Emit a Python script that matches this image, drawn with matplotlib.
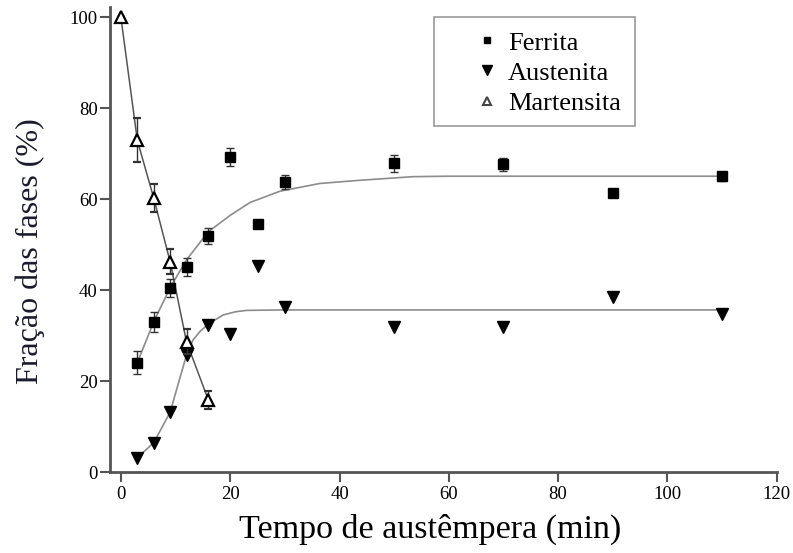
import matplotlib
matplotlib.use("Agg")
import matplotlib.pyplot as plt
from matplotlib.lines import Line2D
from matplotlib.patches import Rectangle

plt.rcParams["font.family"] = ["Liberation Serif", "DejaVu Serif"]

# ── measured phase fractions (%) vs austempering time (min) ─────────────────
t_fer = [3, 6, 9, 12, 16, 20, 25, 30, 50, 70, 90, 110]
ferrita = [24.1, 33.1, 40.6, 45.2, 52.0, 69.3, 54.5, 63.8, 67.9, 67.7, 61.3, 65.1]
ferrita_err = [2.5, 2.2, 2.0, 2.0, 1.8, 2.0, 0.5, 1.5, 1.8, 1.5, 0.5, 1.0]

t_aus = [3, 6, 9, 12, 16, 20, 25, 30, 50, 70, 90, 110]
austenita = [3.2, 6.5, 13.2, 25.8, 32.4, 30.5, 45.3, 36.3, 32.0, 32.0, 38.5, 34.8]

t_mar = [0, 3, 6, 9, 12, 16]
martensita = [100.0, 73.0, 60.3, 46.3, 28.7, 15.9]
martensita_err = [0.0, 4.8, 3.0, 2.8, 2.7, 2.0]

# guide lines: straight joins at short times, then the fitted trend
fer_line_t = [3, 6, 9, 12, 16, 20, 23.6, 29.1, 36.4, 43.7, 53.5, 60, 110]
fer_line_y = [24.1, 33.1, 40.6, 46.7, 52.9, 56.5, 59.3, 61.8, 63.5, 64.2, 65.0, 65.1, 65.1]
aus_line_t = [3, 6, 9, 12, 13.2, 14.5, 16, 18.7, 21, 23, 30, 110]
aus_line_y = [3.2, 6.5, 13.2, 25.8, 29.1, 31.0, 32.6, 34.6, 35.3, 35.6, 35.7, 35.7]

W, H = 793, 553
fig = plt.figure(figsize=(W / 100, H / 100), dpi=100)
ax = fig.add_axes([110 / W, 1 - 472.3 / H, (776.7 - 110) / W, (472.3 - 7) / H])

line_c = "#8c8c8c"
ax.plot(fer_line_t, fer_line_y, color=line_c, lw=1.2, zorder=1)
ax.plot(aus_line_t, aus_line_y, color=line_c, lw=1.2, zorder=1)
ax.plot(t_mar, martensita, color="#555555", lw=1.1, zorder=1)

ax.errorbar(t_fer, ferrita, yerr=ferrita_err, fmt="s", color="black",
            ms=7.5, ecolor="#333333", elinewidth=1, capsize=3, zorder=3)
ax.plot(t_aus, austenita, "v", color="black", ms=9, zorder=3)
ax.errorbar(t_mar, martensita, yerr=martensita_err, fmt="^", mfc="white",
            mec="black", mew=1.6, ms=8.5, ecolor="#333333", elinewidth=1,
            capsize=3, zorder=4)

ax.set_xlim(-2, 120)
ax.set_ylim(0, 102.3)
ax.set_xticks(range(0, 121, 20))
ax.set_yticks(range(0, 101, 20))
ax.tick_params(direction="out", length=7, width=1.5, color="#555555",
               labelsize=13.5)
ax.tick_params(axis="y", pad=2)
ax.tick_params(axis="x", pad=3)
for side in ("top", "right"):
    ax.spines[side].set_visible(False)
for side in ("left", "bottom"):
    ax.spines[side].set_linewidth(2)
    ax.spines[side].set_color("#555555")

ax.set_xlabel("Tempo de austêmpera (min)", fontsize=24.5)
ax.set_ylabel("Fração das fases (%)", fontsize=23, color="#1a1a2e")
ax.xaxis.set_label_coords(0.48, -0.09)
ax.yaxis.set_label_coords(-0.0975, 0.476)

# legend: keys and labels, with a plain square frame around them
handles = [
    Line2D([], [], ls="none", marker="s", color="black", ms=5),
    Line2D([], [], ls="none", marker="v", color="black", ms=7),
    Line2D([], [], ls="none", marker="^", mfc="white", mec="#444444", mew=1.5, ms=6),
]
fs = 19
fs_px = fs * 100 / 72
hl = 1.0
fig.legend(handles, ["Ferrita", "Austenita", "Martensita"],
           loc="center left", bbox_to_anchor=((487 - hl * fs_px / 2) / W, 1 - 73 / H),
           fontsize=fs, frameon=False, handlelength=hl, handletextpad=0.3,
           labelspacing=0.25, borderpad=0, borderaxespad=0)
fig.add_artist(Rectangle((434 / W, 1 - 126 / H), 201 / W, 109.3 / H,
                         transform=fig.transFigure, fill=False,
                         ec="#999999", lw=1.2))

fig.savefig("out.png", dpi=100)
